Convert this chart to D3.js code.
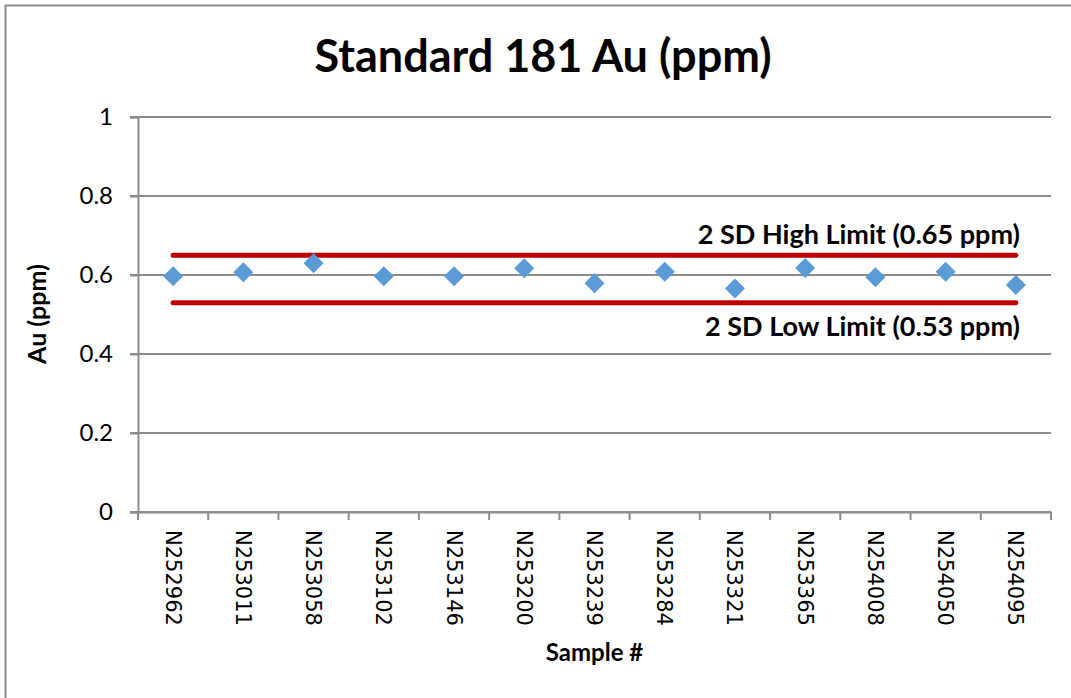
<!DOCTYPE html>
<html><head><meta charset="utf-8">
<script src="https://cdn.jsdelivr.net/npm/d3@7"></script>
<style>body{margin:0;background:#fff}svg{display:block}</style>
</head><body>
<svg id="c" width="1071" height="698"></svg>
<script>
const samples = ["N252962","N253011","N253058","N253102","N253146","N253200","N253239","N253284","N253321","N253365","N254008","N254050","N254095"];
const auValues = [0.597,0.607,0.630,0.597,0.597,0.617,0.579,0.608,0.566,0.618,0.594,0.608,0.575];
const yTicks = [0,0.2,0.4,0.6,0.8,1];
const limitValues = [0.65,0.53];
const limitLabels = ["2 SD High Limit (0.65 ppm)","2 SD Low Limit (0.53 ppm)"];

const svg = d3.select("#c");
const L=138, R=1051, T=117, B=512;
const x = d3.scaleBand().domain(samples).range([L,R]);
const y = d3.scaleLinear().domain([0,1]).range([B,T]);
const cx = d => x(d)+x.bandwidth()/2;

// outer border
svg.append("rect").attr("x",5.5).attr("y",5.5).attr("width",1100).attr("height",800)
  .attr("fill","none").attr("stroke","#8c8c8c").attr("stroke-width",2);

// title
svg.append("text").attr("x",543).attr("y",72).attr("text-anchor","middle")
  .attr("font-family","Lato, 'Open Sans', sans-serif").attr("font-weight","bold")
  .attr("font-size",45).attr("fill","#000").text("Standard 181 Au (ppm)");

// gridlines
svg.append("g").selectAll("line").data(yTicks).join("line")
  .attr("x1",L-8).attr("x2",R).attr("y1",d=>y(d)).attr("y2",d=>y(d))
  .attr("stroke","#8c8c8c").attr("stroke-width",2);

// y axis
const yAxis = svg.append("g").attr("transform",`translate(${L},0)`)
  .call(d3.axisLeft(y).tickValues(yTicks).tickFormat(d=>String(d)).tickSize(8).tickPadding(17));
yAxis.select(".domain").attr("stroke","#8c8c8c").attr("stroke-width",2);
yAxis.selectAll(".tick line").attr("stroke","#8c8c8c").attr("stroke-width",2);
yAxis.selectAll("text").attr("font-family","Lato, sans-serif").attr("font-size",24).attr("fill","#000");

// x axis
const xAxis = svg.append("g").attr("transform",`translate(0,${B})`)
  .call(d3.axisBottom(x).tickSize(0).tickFormat(d=>d));
xAxis.select(".domain").attr("stroke","#8c8c8c").attr("stroke-width",2);
xAxis.selectAll(".tick text").remove();
// category boundary ticks
const bounds = samples.map(s=>x(s)).concat([R]);
svg.append("g").selectAll("line").data(bounds).join("line")
  .attr("x1",d=>d).attr("x2",d=>d).attr("y1",B).attr("y2",B+8)
  .attr("stroke","#8c8c8c").attr("stroke-width",2);
svg.append("g").selectAll("text").data(samples).join("text")
  .attr("transform",d=>`translate(${cx(d)-7.5},${B+18}) rotate(90)`)
  .attr("font-family","'DejaVu Sans', sans-serif").attr("font-size",21).attr("fill","#000")
  .attr("text-anchor","start").text(d=>d);

// axis titles
svg.append("text").attr("x",(L+R)/2).attr("y",661).attr("text-anchor","middle")
  .attr("font-family","Lato, sans-serif").attr("font-weight","bold").attr("font-size",24).text("Sample #");
svg.append("text").attr("transform","translate(46,314) rotate(-90)").attr("text-anchor","middle")
  .attr("font-family","Lato, sans-serif").attr("font-weight","bold").attr("font-size",25).text("Au (ppm)");

// limit lines
svg.append("g").selectAll("line").data(limitValues).join("line")
  .attr("x1",cx(samples[0])).attr("x2",cx(samples[samples.length-1]))
  .attr("y1",d=>y(d)).attr("y2",d=>y(d))
  .attr("stroke","#c00000").attr("stroke-width",5).attr("stroke-linecap","round");
svg.append("g").selectAll("text").data(limitLabels).join("text")
  .attr("x",1020).attr("y",(d,i)=> i===0 ? y(limitValues[0])-11 : y(limitValues[1])+33)
  .attr("text-anchor","end").attr("font-family","Lato, sans-serif").attr("font-weight","bold")
  .attr("font-size",27).attr("fill","#000").text(d=>d);

// points
svg.append("g").selectAll("path").data(samples).join("path")
  .attr("d",(d,i)=>{const px=cx(d), py=y(auValues[i]), r=10; return `M${px},${py-r}L${px+r},${py}L${px},${py+r}L${px-r},${py}Z`;})
  .attr("fill","#5b9bd5");
</script>
</body></html>
